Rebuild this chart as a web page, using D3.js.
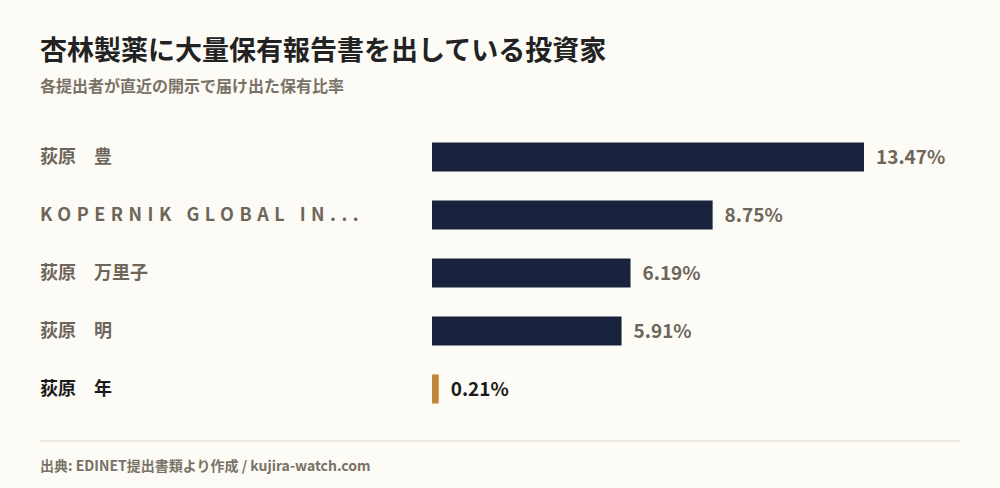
<!DOCTYPE html>
<html><head><meta charset="utf-8">
<script src="https://cdn.jsdelivr.net/npm/d3@7"></script>
<style>body{margin:0;background:#fcfbf6;}svg{display:block;font-family:"Noto Sans CJK JP","Noto Sans",sans-serif;}</style>
</head><body><svg id="c" width="1000" height="488"></svg>
<script>
const names = ["荻原　豊","KOPERNIK GLOBAL IN...","荻原　万里子","荻原　明","荻原　年"];
const values = [13.47, 8.75, 6.19, 5.91, 0.21];
const highlight = [false,false,false,false,true];
const svg = d3.select("#c");
svg.append("rect").attr("width",1000).attr("height",488).attr("fill","#fcfbf6");
svg.append("text").attr("x",40).attr("y",60).attr("font-size",27).attr("font-weight",700).attr("fill","#222").text("杏林製薬に大量保有報告書を出している投資家");
svg.append("text").attr("x",40).attr("y",92).attr("font-size",16).attr("font-weight",700).attr("fill","#7a7266").text("各提出者が直近の開示で届け出た保有比率");
const x = d3.scaleLinear().domain([0,13.47]).range([432,864]);
const y = d3.scaleBand().domain(names).range([128,418]).paddingInner(0.5).paddingOuter(0.25);
const g = svg.selectAll("g.r").data(names).join("g");
g.append("rect").attr("x",x(0)).attr("y",d=>y(d)).attr("height",y.bandwidth())
 .attr("width",(d,i)=>Math.max(x(values[i])-x(0),6)).attr("fill",(d,i)=>highlight[i]?"#c0863a":"#18223d");
g.append("text").attr("x",40).attr("y",d=>y(d)+y.bandwidth()/2).attr("dy","0.36em")
 .attr("font-size",18).attr("font-weight",700).attr("fill",(d,i)=>highlight[i]?"#1a1a1a":"#6e665a")
 .attr("letter-spacing",(d,i)=>i===1?"5.5px":"0").text(d=>d);
g.append("text").attr("x",(d,i)=>x(0)+Math.max(x(values[i])-x(0),6)+12).attr("y",d=>y(d)+y.bandwidth()/2).attr("dy","0.36em")
 .attr("font-size",19).attr("font-weight",700).attr("fill",(d,i)=>highlight[i]?"#1a1a1a":"#6e665a")
 .text((d,i)=>values[i].toFixed(2)+"%");
svg.append("line").attr("x1",40).attr("x2",960).attr("y1",441).attr("y2",441).attr("stroke","#ddd8c6");
svg.append("text").attr("x",40).attr("y",471).attr("font-size",14).attr("font-weight",700).attr("fill","#7a7266").text("出典: EDINET提出書類より作成 / kujira-watch.com");
</script></body></html>
